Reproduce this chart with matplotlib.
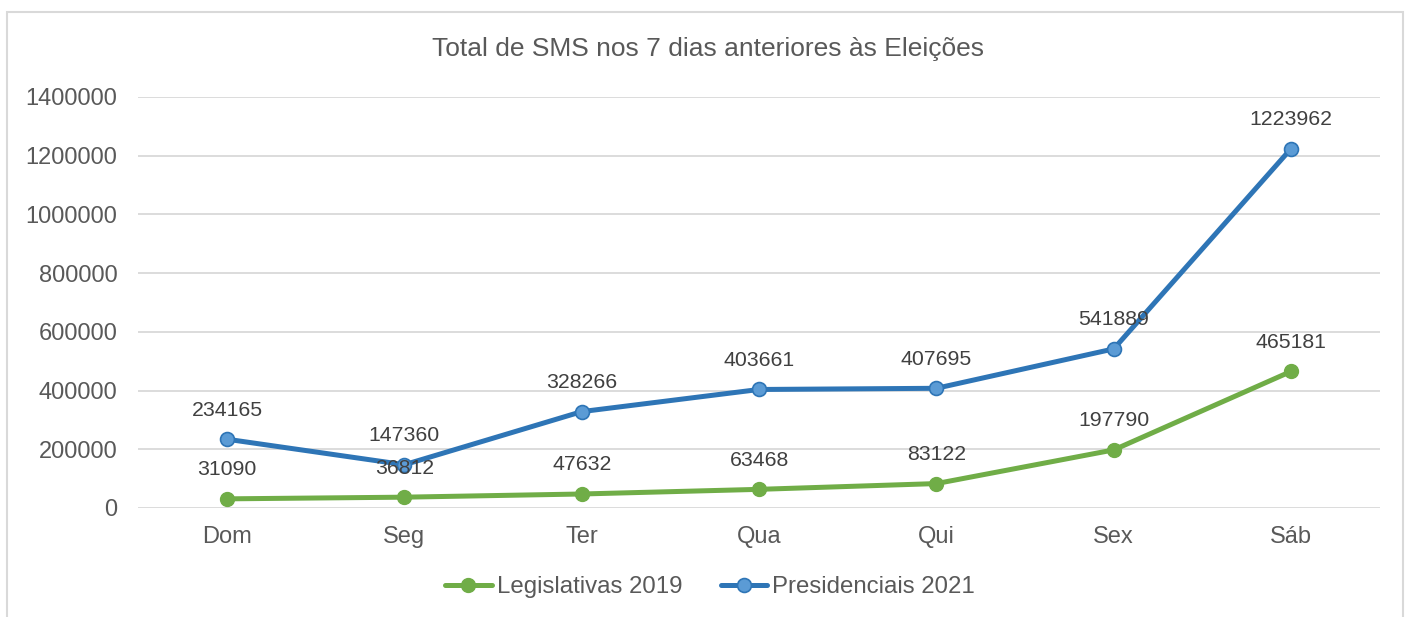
import matplotlib.pyplot as plt
from matplotlib.patches import Rectangle

plt.rcParams['font.family'] = ['Liberation Sans', 'DejaVu Sans']

dias = ["Dom", "Seg", "Ter", "Qua", "Qui", "Sex", "Sáb"]
legislativas_2019 = [31090, 36812, 47632, 63468, 83122, 197790, 465181]
presidenciais_2021 = [234165, 147360, 328266, 403661, 407695, 541889, 1223962]
yticks = [0, 200000, 400000, 600000, 800000, 1000000, 1200000, 1400000]

cinza = '#595959'
verde = '#70AD47'
azul = '#2E75B6'

fig = plt.figure(figsize=(14.07, 6.17), dpi=100)
ax = fig.add_axes([0.0984, 0.1767, 0.9806 - 0.0984, 0.8428 - 0.1767])

x = range(len(dias))
ax.plot(x, legislativas_2019, color=verde, lw=3.6, marker='o', ms=10,
        mfc=verde, mec=verde, label="Legislativas 2019", solid_capstyle='round', zorder=3)
ax.plot(x, presidenciais_2021, color=azul, lw=3.6, marker='o', ms=10,
        mfc='#5B9BD5', mec=azul, mew=1.2, label="Presidenciais 2021", solid_capstyle='round', zorder=3)

for serie in (legislativas_2019, presidenciais_2021):
    for i, v in enumerate(serie):
        ax.annotate(str(v), (i, v), xytext=(0, 21), textcoords='offset points',
                    ha='center', va='center', fontsize=15.3, color='#404040', zorder=4)

ax.set_xlim(-0.5, 6.5)
ax.set_ylim(0, 1400000)
ax.set_xticks(list(x))
ax.set_xticklabels(dias)
ax.set_yticks(yticks)
ax.set_yticklabels([str(t) for t in yticks])
ax.tick_params(axis='both', length=0, labelsize=17, colors=cinza)
ax.tick_params(axis='x', pad=13)
ax.tick_params(axis='y', pad=15)
ax.grid(axis='y', color='#D9D9D9', lw=1.3)
ax.set_axisbelow(True)
for s in ax.spines.values():
    s.set_visible(False)

fig.text(0.5035, 1 - 49 / 617, "Total de SMS nos 7 dias anteriores às Eleições",
         ha='center', va='center', fontsize=19, color=cinza)

leg = fig.legend(loc='center', bbox_to_anchor=(0.5046, 1 - 587 / 617), ncol=2, frameon=False,
                 fontsize=17.3, handlelength=1.95, handletextpad=0.2, columnspacing=1.6)
for t in leg.get_texts():
    t.set_color(cinza)

fig.patches.append(Rectangle((7 / 1407, -0.1), (1403 - 7) / 1407, 1.1 - 12 / 617,
                             transform=fig.transFigure, fill=False, ec='#D9D9D9', lw=1.5))

fig.savefig("out.png", dpi=100)
